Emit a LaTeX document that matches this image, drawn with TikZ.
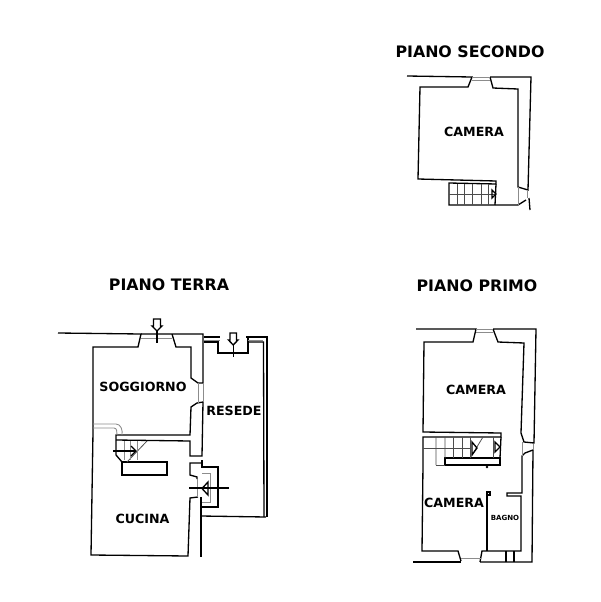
\documentclass[tikz,border=0pt]{standalone}
\usepackage{fontspec}
\setmainfont{DejaVu Sans}
\tikzset{
  wall/.style={line width=0.75pt, black},
  heavy/.style={line width=1.4pt, black},
  fine/.style={line width=0.45pt, black!70},
  pale/.style={line width=0.5pt, black!45},
  floortitle/.style={font=\bfseries\fontsize{9}{10}\selectfont, inner sep=0pt},
  roomlabel/.style={font=\bfseries\fontsize{7.2}{9}\selectfont, inner sep=0pt},
}

\begin{document}
\begin{tikzpicture}[x=0.02cm, y=-0.02cm]
\useasboundingbox (0,0) rectangle (600,602);

\node[floortitle] (secondo) at (470,52) {PIANO SECONDO};
\node[floortitle] (terra) at (169,285) {PIANO TERRA};
\node[floortitle] (primo) at (477,286) {PIANO PRIMO};

\node[roomlabel] (cameraS) at (474,132) {CAMERA};
\node[roomlabel] (soggiorno) at (143,387) {SOGGIORNO};
\node[roomlabel] (resede) at (234,411) {RESEDE};
\node[roomlabel] (cucina) at (142.5,519) {CUCINA};
\node[roomlabel] (cameraP) at (476,390) {CAMERA};
\node[roomlabel] (cameraB) at (454,503) {CAMERA};
\node[roomlabel, font=\bfseries\fontsize{4}{5}\selectfont] (bagno) at (505,518) {BAGNO};

% piano secondo
\draw[wall] (407,76) -- (472,77) -- (468,87) -- (420,87) -- (418,179) -- (496,181) -- (496,184) -- (449,183) -- (449,205) -- (518,205) -- (526,200);
\draw[wall] (490,77) -- (531,77) -- (528,190) -- (518,187) -- (518,89) -- (493,88) -- (490,77);
\draw[wall] (529,198) -- (530,210);
\draw[pale] (472,77) -- (490,77) (472,80) -- (490,80);
\draw[pale] (518,187) -- (518,205) (527,190) -- (527,198);
\foreach \sx in {457,464,472,481,488} {
  \draw[fine] (\sx,184) -- (\sx,205);
}
\draw[fine] (449,194) -- (496,194);
\draw[wall] (496,184) -- (495,205);
\draw[wall] (492,190) -- (492,198) -- (496,194) -- cycle;

% piano terra
\draw[wall] (58,333) -- (141,334) -- (138,347) -- (93,347) -- (93,432) -- (91,555) -- (188,556) -- (190,498) -- (198,497);
\draw[wall] (141,334) -- (203,334) -- (203,383) -- (198,383) -- (191,378) -- (191,347) -- (176,347) -- (172,334);
\draw[wall] (203,402) -- (197,403) -- (191,407) -- (190,435) -- (116,435) -- (116,455) -- (122,462);
\draw[wall] (203,402) -- (202,456) -- (190,456) -- (190,441) -- (116,440);
\draw[pale] (141,338) -- (172,338) (198,383) -- (198,403) (203,383) -- (203,402);
\draw[pale] (93,424) -- (116,424) to[out=0, in=80] (122,435);
\draw[pale] (93,428) -- (114,428) to[out=0, in=90] (117,435);
\draw[wall] (122,462) rectangle (167,475);
\draw[fine] (147,441) -- (127,462);
\foreach \sx in {124,130,137} {
  \draw[pale] (\sx,441) -- (\sx,460);
}
\draw[wall] (113,451) -- (135,451);
\draw[wall] (131,446) -- (136,451) -- (131,456);
% ingresso cucina
\draw[wall] (202,463) -- (190,463) -- (190,475) -- (197,477) -- (197,479);
\draw[wall] (202,460) -- (202,467) -- (218,467) -- (218,507) -- (202,507);
\draw[pale] (202,473) -- (210,473) -- (210,502) -- (202,502) (197,479) -- (197,497);
\draw[wall] (208,482) -- (208,495) -- (202,488.5) -- cycle;
\draw[wall] (189,488) -- (229,488);
\draw[wall] (201,497) -- (201,557);
\draw[wall] (201,516) -- (266,517);
% resede
\draw[wall] (204,337) -- (220,337) (204,342) -- (218,342) -- (218,353) -- (248,353) -- (248,338);
\draw[pale] (204,340) -- (220,340) (248,340) -- (263,340);
\draw[wall] (246,337) -- (267,337) -- (267,517);
\draw[wall] (248,342) -- (263.5,342) -- (264,517);
% frecce
\draw[wall, fill=white] (153.5,319) -- (160.5,319) -- (160.5,326) -- (162,326) -- (157,331) -- (152,326) -- (153.5,326) -- cycle;
\draw[wall] (157,331) -- (157,343);
\draw[wall, fill=white] (230,333) -- (236.5,333) -- (236.5,340) -- (238,340) -- (233.2,345) -- (228.5,340) -- (230,340) -- cycle;
\draw[wall] (233.2,345) -- (233.2,357);

% piano primo
\draw[wall] (416,329) -- (476,329) -- (473,342) -- (424,342) -- (423,432) -- (501,433) -- (501,437) -- (423,437) -- (423,465) -- (422,551) -- (458,551) -- (461,561);
\draw[wall] (493,329) -- (536,329) -- (534,443) -- (524,442) -- (521,433) -- (524,343) -- (498,342) -- (493,329);
\draw[wall] (533,450) -- (525,453) -- (522,456) -- (522,493) -- (507,493) -- (507,496) -- (521,496) -- (521,551) -- (482,551) -- (480,562);
\draw[wall] (533,450) -- (532,562) -- (480,562);
\draw[wall] (413,562) -- (461,562);
\draw[wall] (506,551) -- (506,562) (514,551) -- (514,562);
\draw[pale] (476,329) -- (493,329) (476,332) -- (493,332) (461,558) -- (481,558);
\draw[pale] (533,444) -- (533,450) (522,442) -- (522,456);
\draw[heavy] (487,494) -- (487,551);
\draw[wall, fill=white] (487,492) rectangle (490,495);
\fill[black] (487,467) circle (1.3);
% scala
\draw[wall] (445,458) rectangle (500,465);
\draw[wall] (501,437) -- (500,458);
\foreach \sx in {453,462,470,493} {
  \draw[fine] (\sx,437) -- (\sx,458);
}
\draw[fine] (436,437) -- (436,465) (445,437) -- (445,458) (483,437) -- (472,455);
\draw[fine] (423,448) -- (470,448) (436,465) -- (445,465);
\draw[wall] (472,442) -- (472,455) -- (477,448) -- cycle;
\draw[wall] (495,442) -- (495,452) -- (500,447) -- cycle;
\end{tikzpicture}
\end{document}
